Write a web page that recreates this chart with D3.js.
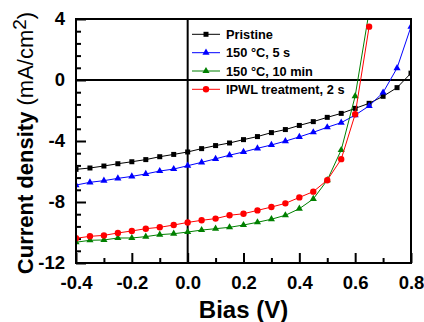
<!DOCTYPE html>
<html>
<head>
<meta charset="utf-8">
<script src="https://cdn.jsdelivr.net/npm/d3@7"></script>
<style>
  html, body { margin: 0; padding: 0; background: #fff; }
  svg { display: block; font-family: "Liberation Sans", Arial, sans-serif; }
</style>
</head>
<body>
<svg id="chart" width="424" height="322"></svg>
<script>
// ---- data ----
const bias = [-0.4, -0.35, -0.3, -0.25, -0.2, -0.15, -0.1, -0.05, 0.0, 0.05, 0.1, 0.15, 0.2,
              0.25, 0.3, 0.35, 0.4, 0.45, 0.5, 0.55, 0.6, 0.65, 0.7, 0.75, 0.8];
const pristine = [-5.86, -5.77, -5.64, -5.49, -5.36, -5.22, -5.03, -4.88, -4.72, -4.5, -4.3, -4.13, -3.91,
                  -3.71, -3.45, -3.25, -2.98, -2.73, -2.45, -2.19, -1.86, -1.53, -1.07, -0.5, 0.45];
const t150_5s = [-6.89, -6.71, -6.6, -6.45, -6.32, -6.16, -5.97, -5.84, -5.62, -5.4, -5.17, -4.93, -4.72,
                 -4.48, -4.26, -4.01, -3.73, -3.43, -3.1, -2.8, -2.3, -1.7, -0.82, 0.78, 3.5];
const t150_10min = [-10.64, -10.51, -10.49, -10.36, -10.36, -10.27, -10.14, -10.08, -9.97, -9.84, -9.75,
                    -9.66, -9.51, -9.33, -9.13, -8.87, -8.44, -7.8, -6.57, -4.59, -1.06, 4.5];
const ipwl = [-10.38, -10.25, -10.19, -10.03, -9.9, -9.75, -9.66, -9.51, -9.34, -9.2, -9.09,
              -8.87, -8.77, -8.55, -8.33, -8.09, -7.7, -7.32, -6.57, -5.19, -2.25, 3.5];
const seriesNames = ["Pristine", "150 °C, 5 s", "150 °C, 10 min", "IPWL treatment, 2 s"];
const xTicks = [-0.4, -0.2, 0.0, 0.2, 0.4, 0.6, 0.8];
const xTickLabels = ["-0.4", "-0.2", "0.0", "0.2", "0.4", "0.6", "0.8"];
const yTicks = [-12, -8, -4, 0, 4];
const yTickLabels = ["-12", "-8", "-4", "0", "4"];

// ---- layout ----
const svg = d3.select("#chart");
const L = 76, R = 411, T = 19, B = 263;
const x = d3.scaleLinear().domain([-0.4, 0.8]).range([L, R]);
const y = d3.scaleLinear().domain([-12, 4]).range([B, T]);

const series = [
  { name: seriesNames[0], vals: pristine,   color: "#000000", sym: d3.symbolSquare,   size: 25 },
  { name: seriesNames[1], vals: t150_5s,    color: "#0000ff", sym: d3.symbolTriangle, size: 22 },
  { name: seriesNames[2], vals: t150_10min, color: "#008000", sym: d3.symbolTriangle, size: 22 },
  { name: seriesNames[3], vals: ipwl,       color: "#ff0000", sym: d3.symbolCircle,   size: 32 }
];

svg.append("defs").append("clipPath").attr("id", "clip")
  .append("rect").attr("x", L).attr("y", T).attr("width", R - L).attr("height", B - T);

// minor ticks
const yMinor = d3.range(-12, 4.001, 0.8).filter(v => !yTicks.some(t => Math.abs(t - v) < 1e-6));
const xMinor = [-0.3, -0.1, 0.1, 0.3, 0.5, 0.7];

const yAxisMinor = svg.append("g").attr("transform", `translate(${L},0)`)
  .call(d3.axisLeft(y).tickValues(yMinor).tickSize(-5).tickFormat(""));
const yAxis = svg.append("g").attr("transform", `translate(${L},0)`)
  .call(d3.axisLeft(y).tickValues(yTicks).tickSize(-10).tickPadding(11)
    .tickFormat((d, i) => yTickLabels[i]));
const xAxisMinor = svg.append("g").attr("transform", `translate(0,${B})`)
  .call(d3.axisBottom(x).tickValues(xMinor).tickSize(-5).tickFormat(""));
const xAxis = svg.append("g").attr("transform", `translate(0,${B})`)
  .call(d3.axisBottom(x).tickValues(xTicks).tickSize(-10).tickPadding(13)
    .tickFormat((d, i) => xTickLabels[i]));

[yAxisMinor, yAxis, xAxisMinor, xAxis].forEach(g => {
  g.select(".domain").remove();
  g.selectAll(".tick line").attr("stroke", "#000").attr("stroke-width", 2);
  g.selectAll(".tick text").attr("fill", "#000").style("font-size", "18.5px").style("font-weight", "bold")
    .style("font-family", "'Liberation Sans', Arial, sans-serif");
});

// zero lines
svg.append("line").attr("x1", x(0)).attr("x2", x(0)).attr("y1", T).attr("y2", B)
  .attr("stroke", "#000").attr("stroke-width", 2);
svg.append("line").attr("x1", L).attr("x2", R).attr("y1", y(0)).attr("y2", y(0))
  .attr("stroke", "#000").attr("stroke-width", 2);

// series
const plot = svg.append("g").attr("clip-path", "url(#clip)");
const line = d3.line().x((d, i) => x(bias[i])).y(d => y(d));
series.forEach(s => {
  plot.append("path").datum(s.vals).attr("d", line)
    .attr("fill", "none").attr("stroke", s.color).attr("stroke-width", 1);
  plot.selectAll(null).data(s.vals).enter().append("path")
    .attr("transform", (d, i) => `translate(${x(bias[i])},${y(d)})`)
    .attr("d", d3.symbol().type(s.sym).size(s.size))
    .attr("fill", s.color);
});

// frame
svg.append("rect").attr("x", L).attr("y", T).attr("width", R - L).attr("height", B - T)
  .attr("fill", "none").attr("stroke", "#000").attr("stroke-width", 2);

// legend
const legY = [34.3, 52.7, 71, 89.3];
series.forEach((s, i) => {
  const g = svg.append("g").attr("transform", `translate(0,${legY[i]})`);
  g.append("line").attr("x1", 192).attr("x2", 220).attr("y1", 0).attr("y2", 0)
    .attr("stroke", s.color).attr("stroke-width", 1);
  g.append("path").attr("transform", "translate(206,0)")
    .attr("d", d3.symbol().type(s.sym).size(s.size)).attr("fill", s.color);
  g.append("text").attr("x", 226).attr("y", 4.6)
    .style("font-size", "12.8px").style("font-weight", "bold").attr("fill", "#000")
    .text(s.name);
});

// axis titles
svg.append("text").attr("x", (L + R) / 2).attr("y", 317.5).attr("text-anchor", "middle")
  .style("font-size", "24px").style("font-weight", "bold").text("Bias (V)");

const yt = svg.append("text").attr("transform", "translate(32.5,143) rotate(-90)")
  .attr("text-anchor", "middle").style("font-size", "22px");
yt.append("tspan").style("font-weight", "bold").text("Current density ");
yt.append("tspan").text("(mA/cm");
yt.append("tspan").attr("dy", "-7").style("font-size", "19px").text("2");
yt.append("tspan").attr("dy", "7").text(")");
</script>
</body>
</html>
